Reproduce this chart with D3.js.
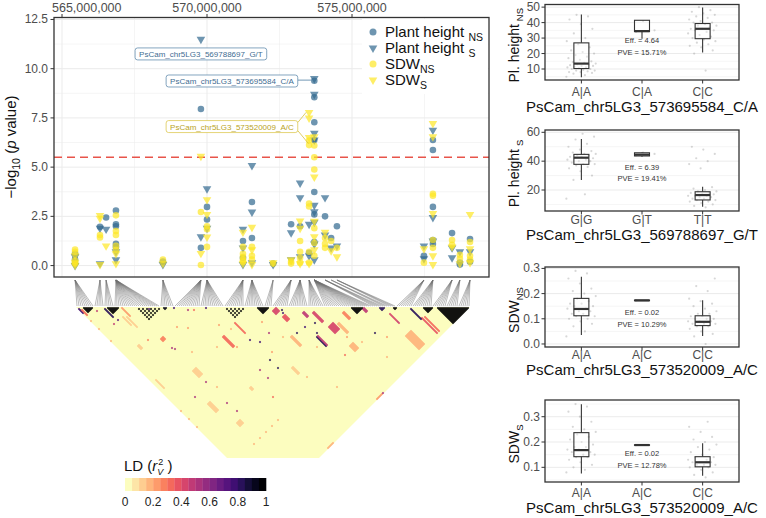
<!DOCTYPE html>
<html>
<head>
<meta charset="utf-8">
<script src="https://cdn.jsdelivr.net/npm/d3@7/dist/d3.min.js"></script>
<style>
  body { margin: 0; background: #fff; }
  svg { display: block; font-family: "Liberation Sans", Arial, Helvetica, sans-serif; }
</style>
</head>
<body>
<svg id="fig" width="766" height="518"></svg>
<script>
// ---------- Manhattan data: [position (Mb), -log10 p] ----------
const phNS = [
  [565.45,0.6],[565.45,0.3],[565.45,0.1],[566.31,1.97],[566.52,2.44],
  [566.86,2.8],[566.86,2.1],[566.86,2.0],[566.86,1.1],[566.86,0.95],[568.48,0.2],
  [569.79,7.95],[569.79,0.9],[570.00,2.98],[570.00,2.34],[571.24,1.25],[571.24,0.4],
  [571.55,3.23],[571.55,1.4],[572.28,0.1],[572.90,2.1],[573.21,2.0],[573.52,0.65],
  [573.70,9.39],[573.70,8.55],[573.70,7.28],[573.70,6.38],[573.70,3.74],[573.70,2.6],[573.70,1.2],
  [574.07,2.5],[574.28,1.4],[574.48,2.0],[577.48,0.5],
  [577.79,6.38],[577.79,5.87],[577.79,2.98],[577.79,1.3],[577.79,1.1],
  [578.45,1.65],[578.72,0.15],[578.72,0.05],[579.07,1.35],[579.07,0.2]
];
const phS = [
  [565.45,0.45],[565.45,0.0],[566.31,1.9],[566.31,0.1],[566.52,1.85],[566.86,0.7],[566.86,0.3],
  [568.48,0.05],[569.79,11.49],[569.79,1.46],[570.00,3.9],[570.00,1.9],
  [571.24,1.85],[571.24,0.9],[571.24,0.05],[571.55,5.08],[571.55,2.72],[571.55,0.15],
  [572.28,0.05],[572.90,1.67],[572.90,0.3],[573.21,4.19],[573.21,3.45],[573.21,0.45],
  [573.52,2.1],[573.52,0.5],
  [573.70,9.5],[573.70,8.7],[573.70,6.72],[573.70,6.38],[573.70,3.06],[573.70,2.73],[573.70,2.2],[573.70,1.1],[573.70,0.3],
  [574.07,3.45],[574.07,1.55],[574.28,0.9],[574.48,1.0],[577.48,1.0],[577.48,0.35],
  [577.79,6.88],[577.79,2.44],[577.79,1.25],[578.45,0.9],[578.45,0.4],[578.72,0.7],[579.07,0.7]
];
const sdwNS = [
  [565.45,0.82],[565.45,0.7],[565.45,0.25],[565.45,0.1],[566.31,1.55],[566.31,1.43],
  [566.86,2.55],[566.86,1.75],[566.86,1.55],[566.86,1.0],[566.86,0.8],[568.48,0.3],
  [569.79,2.72],[569.79,0.03],[570.00,2.0],[570.00,1.85],[570.00,0.95],
  [571.24,0.95],[571.24,0.6],[571.24,0.45],[571.24,0.3],[571.24,0.2],
  [571.55,0.95],[571.55,0.5],[571.55,0.3],[572.28,0.1],[572.90,0.1],[572.90,0.2],
  [573.21,1.25],[573.21,0.7],[573.21,0.4],[573.21,0.15],
  [573.52,6.35],[573.52,6.12],[573.52,3.15],[573.52,3.0],[573.52,0.7],[573.52,0.15],
  [573.70,6.1],[573.70,5.5],[573.70,4.88],[573.70,1.9],[573.70,1.15],[573.70,0.5],
  [574.07,1.4],[574.07,1.1],[574.07,0.9],[574.28,1.25],[574.48,0.9],[577.48,0.15],
  [577.79,3.65],[577.79,3.55],[577.79,1.3],[577.79,0.9],[578.45,1.3],[578.45,1.05],
  [578.72,0.55],[578.72,0.35],[579.07,1.2],[579.07,0.5],[579.07,0.3]
];
const sdwS = [
  [565.45,0.5],[565.45,0.15],[565.45,0.02],[566.31,2.55],[566.31,2.4],[566.31,0.05],[566.52,1.0],
  [566.86,0.6],[566.86,0.1],[568.48,0.1],[569.79,5.55],[569.79,0.62],
  [570.00,3.35],[570.00,2.6],[570.00,1.45],[571.24,1.7],[571.24,0.1],
  [571.55,1.95],[571.55,0.8],[571.55,0.05],[572.28,0.15],[572.90,0.3],
  [573.21,2.26],[573.21,1.9],[573.21,0.1],[573.52,7.78],[573.52,7.5],[573.52,6.5],[573.52,0.1],
  [573.70,6.55],[573.70,4.5],[573.70,2.25],[573.70,1.46],[573.70,0.8],
  [574.07,1.7],[574.28,0.75],[574.48,0.45],[577.48,0.85],
  [577.79,7.22],[577.79,6.55],[577.79,2.64],[577.79,0.5],[577.79,0.05],
  [578.45,0.95],[578.72,0.1],[579.07,2.6],[579.07,0.85],[579.07,0.15]
];
const threshold = 5.5;
const manYTicks = [0, 2.5, 5, 7.5, 10, 12.5];
const manXTicks = [565, 570, 575];

// highlighted SNPs: name, trait colour, label anchor (Mb, -log10 p), points it points to
const labelSnps = [
  { name: "PsCam_chr5LG3_569788697_G/T", trait: "ph",  at: [569.79, 10.75], to: [] },
  { name: "PsCam_chr5LG3_573695584_C/A", trait: "ph",  at: [570.86, 9.375], to: [[573.70, 9.42]] },
  { name: "PsCam_chr5LG3_573520009_A/C", trait: "sdw", at: [570.86, 7.06],  to: [[573.52, 7.78], [573.60, 6.2]] }
];

// ---------- LD data ----------
// SNPs of the map, grouped: [position (Mb), number of SNPs]
const snpClusters = [
  [565.45,9],[566.31,5],[566.52,5],[566.86,23],[568.48,7],[569.79,13],[570.00,12],
  [571.24,10],[571.55,10],[572.28,4],[572.90,8],[573.21,10],[573.52,8],[573.70,24],
  [574.07,5],[574.28,3],[574.48,4],[577.48,8],[577.79,10],[578.45,7],[578.72,6],[579.07,6]
];
// blocks of adjacent SNPs in strong LD: [first, last, r2]
const ldBlocks = [[3,8,1],[15,21,0.95],[43,45,0.9],[90,96,1],[137,143,0.95],[151,154,0.8],
  [158,160,0.95],[173,178,1],[180,196,1]];
// scattered SNP sets in mutual LD: [snps, r2]
const ldSets = [[[30,32,34,36,38,40,42],0.95],[[74,76,78,80,82,84],0.95]];
// rectangles of pairs: [i0, i1, j0, j1, r2]
const ldRects = [
  [0,0,2,6,0.75],[1,1,4,9,0.3],[13,13,15,23,0.8],[22,22,23,31,0.2],[20,20,30,40,0.12],
  [18,18,28,36,0.12],[58,59,88,98,0.3],[71,71,87,97,0.3],[26,29,90,96,0.12],[3,3,76,84,0.1],
  [105,105,135,144,0.8],[106,106,135,144,0.45],[116,120,136,142,0.4],
  [117,120,156,161,0.15],[150,155,179,192,0.15],[167,167,178,193,0.35],[169,169,179,193,0.3],
  [166,166,168,178,0.8],[17,19,114,122,0.1],[55,60,196,196,0.15],[104,110,196,196,0.2],
  [110,111,116,120,0.45],[26,28,58,60,0.25],[46,47,127,129,0.12],[77,78,138,144,0.12],
  [92,93,122,131,0.15],[115,116,121,130,0.4],[122,123,139,148,0.15],[130,131,136,142,0.25],
  [153,153,160,169,0.4],[22,25,138,141,0.1],[98,100,108,112,0.35],[96,99,100,103,0.4],
  [142,143,144,147,0.45],[11,12,50,53,0.12]
];
// single pairs: [i, j, r2]
const ldCells = [
  [8,12,0.45],[10,27,0.45],[14,27,0.7],[48,49,0.75],[64,65,0.75],[101,104,0.8],[100,106,0.75],
  [70,103,0.75],[74,109,0.75],[83,109,0.5],[70,123,0.8],[70,131,0.8],[60,123,0.5],[60,131,0.5],
  [97,123,0.8],[104,124,0.75],[111,127,0.8],[107,133,0.8],[110,158,0.3],[136,162,0.8],
  [153,168,0.45],[27,68,0.5],[27,102,0.5],[27,123,0.5],[28,132,0.5],[28,70,0.5],[19,52,0.25],
  [14,104,0.5],[53,143,0.3],[110,196,0.5],[35,37,0.75],[54,57,0.5],[57,60,0.3],
  [0,14,0.15],[0,22,0.15],[0,34,0.15],[0,104,0.15],[0,112,0.15],[0,120,0.15],
  [20,157,0.15],[26,157,0.15],[32,157,0.15],[38,157,0.15],[44,157,0.15],
  [40,60,0.2],[45,66,0.2],[62,80,0.2],[66,88,0.15],[85,100,0.2],[88,118,0.15],
  [120,150,0.2],[125,160,0.15],[140,170,0.2],[50,90,0.15],[35,80,0.15],[100,140,0.15],
  [30,110,0.15],[80,150,0.15],[90,170,0.15],[130,180,0.15],[60,100,0.2],[75,120,0.2]
];
const ldTicks = [0, 0.2, 0.4, 0.6, 0.8, 1];

// ---------- genotype panels ----------
const genoPH_NS = ["A|A", "C|A", "C|C"];
const statsPH_NS = [[4.6,10.3,13.5,26.9,45.2],[29.6,34.2,34.5,41.5,41.5],[20.6,29.6,36.0,39.4,49.8]];
const ptsPH_NS = [
  [5,6,7,7.5,8,8,8.5,9,9,9.5,10,10,10.5,11,11,11.5,12,12,12.5,13,13,13.5,14,14.5,15,16,17,18,19,20,21,22,24,26,28,30,33,36,39,42,44,45],
  [34,35,41],
  [9,20,22,24,25,26,27,28,29,30,31,32,33,34,35,35,36,36,37,38,38,39,40,40,41,42,43,44,45,46,47,48,50]
];
const genoPH_S = ["G|G", "G|T", "T|T"];
const statsPH_S = [[26.9,37.8,42.4,44.7,55.3],[43.0,43.6,44.5,45.8,46.2],[8.4,13.1,16.5,18.8,22.3]];
const ptsPH_S = [
  [14,17,27,30,33,35,36,37,38,38,39,40,40,41,41,42,42,43,43,44,44,45,45,46,47,48,50,52,55,57,59],
  [44,45,46],
  [8,9,10,11,12,12,13,13,14,14,15,15,16,16,16,17,17,18,18,19,19,20,21,22,35,38,40,42,45,48,50]
];
const genoSDW = ["A|A", "A|C", "C|C"];
const statsSDW_NS = [[0.036,0.112,0.139,0.181,0.267],[0.172,0.172,0.173,0.174,0.174],[0.032,0.073,0.088,0.112,0.174]];
const ptsSDW_NS = [
  [0.03,0.05,0.07,0.08,0.09,0.10,0.10,0.11,0.11,0.12,0.12,0.13,0.13,0.14,0.14,0.15,0.15,0.16,0.16,0.17,0.18,0.19,0.20,0.21,0.22,0.24,0.26,0.28,0.29],
  [0.173],
  [0.0,0.03,0.04,0.05,0.06,0.07,0.07,0.08,0.08,0.08,0.09,0.09,0.09,0.10,0.10,0.10,0.11,0.11,0.12,0.12,0.13,0.14,0.15,0.16,0.17,0.18,0.21,0.23,0.26]
];
const statsSDW_S = [[0.076,0.142,0.168,0.237,0.349],[0.187,0.187,0.188,0.189,0.189],[0.067,0.102,0.12,0.142,0.195]];
const ptsSDW_S = [
  [0.08,0.09,0.10,0.11,0.12,0.13,0.14,0.14,0.15,0.15,0.16,0.16,0.17,0.17,0.18,0.18,0.19,0.20,0.21,0.22,0.23,0.24,0.25,0.26,0.28,0.30,0.32,0.34,0.35],
  [0.188],
  [0.06,0.07,0.08,0.09,0.10,0.10,0.11,0.11,0.11,0.12,0.12,0.12,0.13,0.13,0.14,0.14,0.15,0.16,0.17,0.18,0.19,0.20,0.21,0.22,0.24,0.26,0.28]
];

// ======================================================================
const svg = d3.select("#fig");
const blue = "#31688e", yellow = "#fde725";
const gridCol = "#ebebeb", tickCol = "#4d4d4d", borderCol = "#333333";

// ---------- Manhattan panel ----------
const mx = d3.scaleLinear().domain([564.724, 579.724]).range([54, 489]);
const my = d3.scaleLinear().domain([-0.58, 12.6]).range([277, 17.5]);
const man = svg.append("g");

man.selectAll(".gyMinor").data(d3.range(1.25, 12.6, 2.5)).join("line")
  .attr("x1", 54).attr("x2", 489).attr("y1", d => my(d)).attr("y2", d => my(d))
  .attr("stroke", gridCol).attr("stroke-width", 0.5);
man.selectAll(".gxMinor").data(d3.range(567.5, 579.7, 5)).join("line")
  .attr("y1", 17.5).attr("y2", 277).attr("x1", d => mx(d)).attr("x2", d => mx(d))
  .attr("stroke", gridCol).attr("stroke-width", 0.5);
man.selectAll(".gy").data(manYTicks).join("line")
  .attr("x1", 54).attr("x2", 489).attr("y1", d => my(d)).attr("y2", d => my(d))
  .attr("stroke", gridCol).attr("stroke-width", 1);
man.selectAll(".gx").data(manXTicks).join("line")
  .attr("y1", 17.5).attr("y2", 277).attr("x1", d => mx(d)).attr("x2", d => mx(d))
  .attr("stroke", gridCol).attr("stroke-width", 1);

man.append("line").attr("x1", 54).attr("x2", 489)
  .attr("y1", my(threshold)).attr("y2", my(threshold))
  .attr("stroke", "#e8544a").attr("stroke-width", 1.5).attr("stroke-dasharray", "8,5");

const triSym = d3.symbol(d3.symbolTriangle, 32);
function drawCircles(data, col) {
  man.append("g").selectAll("circle").data(data).join("circle")
    .attr("cx", d => mx(d[0])).attr("cy", d => my(d[1])).attr("r", 3.3)
    .attr("fill", col).attr("fill-opacity", 0.7);
}
function drawTris(data, col) {
  man.append("g").selectAll("path").data(data).join("path")
    .attr("d", triSym)
    .attr("transform", d => `translate(${mx(d[0])},${my(d[1])}) rotate(180)`)
    .attr("fill", col).attr("fill-opacity", 0.7);
}
drawCircles(phNS, blue);
drawTris(phS, blue);
drawCircles(sdwNS, yellow);
drawTris(sdwS, yellow);

// repel-style labels
labelSnps.forEach(l => {
  const stroke = l.trait === "ph" ? "#4f7ea3" : "#d8c23c";
  const txtCol = l.trait === "ph" ? "#3f6d92" : "#b9a31e";
  const g = man.append("g");
  const cx = mx(l.at[0]), cy = my(l.at[1]);
  const t = g.append("text").attr("x", cx).attr("y", cy + 3)
    .attr("text-anchor", "middle").attr("font-size", 8).attr("fill", txtCol).text(l.name);
  const w = t.node().getComputedTextLength() + 8, h = 12;
  const x0 = cx - w / 2, y0 = cy - h / 2;
  l.to.forEach(p => {
    const tx = mx(p[0]) - 3, ty = my(p[1]);
    const sy = Math.max(y0 + 2, Math.min(y0 + h - 2, ty));
    g.insert("line", "text").attr("x1", x0 + w).attr("y1", sy).attr("x2", tx).attr("y2", ty)
      .attr("stroke", stroke).attr("stroke-width", 0.8);
  });
  g.insert("rect", "text").attr("x", x0).attr("y", y0).attr("width", w).attr("height", h)
    .attr("rx", 2.5).attr("fill", "white").attr("stroke", stroke).attr("stroke-width", 0.7);
});

// legend
const legendItems = [
  { lab: "Plant height", sub: "NS", sp: true,  col: blue,   shape: "circle" },
  { lab: "Plant height", sub: "S",  sp: true,  col: blue,   shape: "tri" },
  { lab: "SDW",          sub: "NS", sp: false, col: yellow, shape: "circle" },
  { lab: "SDW",          sub: "S",  sp: false, col: yellow, shape: "tri" }
];
const leg = man.append("g");
leg.append("rect").attr("x", 362).attr("y", 19).attr("width", 126).attr("height", 75).attr("fill", "white");
legendItems.forEach((it, k) => {
  const y = 32 + k * 16;
  if (it.shape === "circle") {
    leg.append("circle").attr("cx", 373).attr("cy", y).attr("r", 3.5)
      .attr("fill", it.col).attr("fill-opacity", 0.7);
  } else {
    leg.append("path").attr("d", triSym).attr("transform", `translate(373,${y}) rotate(180)`)
      .attr("fill", it.col).attr("fill-opacity", 0.7);
  }
  const t = leg.append("text").attr("x", 385).attr("y", y + 5).attr("font-size", 15).attr("fill", "#111");
  t.append("tspan").text(it.lab + (it.sp ? " " : ""));
  t.append("tspan").attr("font-size", 10.5).attr("dy", 4).text(it.sub);
});

// border + axes
man.append("rect").attr("x", 54).attr("y", 17.5).attr("width", 435).attr("height", 259.5)
  .attr("fill", "none").attr("stroke", borderCol).attr("stroke-width", 1.3);
man.selectAll(".ytk").data(manYTicks).join("line")
  .attr("x1", 50.5).attr("x2", 54).attr("y1", d => my(d)).attr("y2", d => my(d))
  .attr("stroke", borderCol).attr("stroke-width", 1);
man.selectAll(".ylab").data(manYTicks).join("text")
  .attr("x", 48).attr("y", d => my(d) + 4).attr("text-anchor", "end")
  .attr("font-size", 12).attr("fill", tickCol).text(d => d3.format(".1f")(d));
man.selectAll(".xtk").data(manXTicks).join("line")
  .attr("x1", d => mx(d)).attr("x2", d => mx(d)).attr("y1", 14).attr("y2", 17.5)
  .attr("stroke", borderCol).attr("stroke-width", 1);
man.selectAll(".xlab").data(manXTicks).join("text")
  .attr("y", 12).attr("text-anchor", "middle").attr("font-size", 12.5).attr("fill", tickCol)
  .text(d => d3.format(",")(d * 1e6))
  .attr("x", function (d) {
    const w = this.getComputedTextLength();
    return Math.max(mx(d), 52 + w / 2);
  });
const yt = man.append("text").attr("transform", "translate(16,147) rotate(-90)")
  .attr("text-anchor", "middle").attr("font-size", 15).attr("fill", "#111");
yt.append("tspan").text("\u2212log");
yt.append("tspan").attr("font-size", 10.5).attr("dy", 4).text("10");
yt.append("tspan").attr("dy", -4).text(" (");
yt.append("tspan").attr("font-style", "italic").text("p");
yt.append("tspan").text(" value)");

// ---------- LD heatmap ----------
const ldN = d3.sum(snpClusters, d => d[1]);
const ldX = d3.scaleLinear().domain([0, ldN]).range([76, 470]);
const cell = ldX(1) - ldX(0);
const ldTop = 307, ldBottom = 458;
const ldBin = r => Math.min(19, Math.floor(r * 20));
const ldColor = r => d3.interpolateMagma(1 - ldBin(r) / 19);

const snpPos = snpClusters.flatMap(([pos, n]) => Array(n).fill(pos));
svg.append("g").selectAll("line").data(snpPos).join("line")
  .attr("x1", d => mx(d)).attr("y1", 280)
  .attr("x2", (d, k) => ldX(k + 0.5)).attr("y2", 306)
  .attr("stroke", "#6e6e6e").attr("stroke-width", 0.55).attr("stroke-opacity", 0.85);

const ldMap = new Map();
const setPair = (i, j, r) => { if (i < j && j < ldN) ldMap.set(i + "," + j, r); };
ldRects.forEach(([i0, i1, j0, j1, r]) => {
  for (let i = i0; i <= i1; i++) for (let j = j0; j <= j1; j++) setPair(i, j, r);
});
ldCells.forEach(([i, j, r]) => setPair(i, j, r));
ldSets.forEach(([snps, r]) => {
  snps.forEach(a => snps.forEach(b => setPair(a, b, r)));
});
ldBlocks.forEach(([a, b, r]) => {
  for (let i = a; i <= b; i++) for (let j = i + 1; j <= b; j++) setPair(i, j, r);
});
const ldPairs = Array.from(ldMap, ([k, r]) => {
  const [i, j] = k.split(",").map(Number);
  return { i, j, r };
});

svg.append("clipPath").attr("id", "ldclip").append("rect")
  .attr("x", 0).attr("y", ldTop - 2).attr("width", 766).attr("height", ldBottom - ldTop + 2);
const ldG = svg.append("g").attr("clip-path", "url(#ldclip)");
const depth = ldBottom - ldTop;
ldG.append("polygon")
  .attr("points", [[ldX(0), ldTop], [ldX(ldN), ldTop], [ldX(ldN) - depth, ldBottom], [ldX(0) + depth, ldBottom]].join(" "))
  .attr("fill", ldColor(0));
ldG.selectAll("path").data(ldPairs).join("path")
  .attr("d", d => {
    const cx = ldX((d.i + d.j + 1) / 2), cy = ldTop + (d.j - d.i) * cell / 2, h = cell / 2 + 0.2;
    return `M${cx},${cy - h}L${cx + h},${cy}L${cx},${cy + h}L${cx - h},${cy}Z`;
  })
  .attr("fill", d => ldColor(d.r));

// colour bar
const cbX = d3.scaleLinear().domain([0, 1]).range([125, 266]);
svg.append("g").selectAll("rect").data(d3.range(20)).join("rect")
  .attr("x", k => cbX(k / 20)).attr("width", cbX(0.05) - cbX(0) + 0.3)
  .attr("y", 478).attr("height", 13).attr("fill", k => ldColor((k + 0.5) / 20));
svg.append("g").selectAll("text").data(ldTicks).join("text")
  .attr("x", d => cbX(d)).attr("y", 506).attr("text-anchor", "middle")
  .attr("font-size", 12).attr("fill", "#222").text(d => d3.format("~g")(d));
const lt = svg.append("text").attr("x", 124).attr("y", 471).attr("font-size", 15).attr("fill", "#111");
lt.append("tspan").text("LD (");
lt.append("tspan").attr("font-style", "italic").text("r");
lt.append("tspan").attr("font-size", 9).attr("dy", -6).attr("dx", 1).text("2");
lt.append("tspan").attr("font-size", 9).attr("font-style", "italic").attr("dy", 10).attr("dx", -6).text("V");
lt.append("tspan").attr("dy", -4).text(" )");

// ---------- genotype boxplots ----------
const boxPanels = [
  { geno: genoPH_NS, stats: statsPH_NS, pts: ptsPH_NS, eff: "4.64", pve: "15.71%", ylab: ["Pl. height", "NS"],
    xlab: "PsCam_chr5LG3_573695584_C/A", top: 4.5, bottom: 80, dom: [2.9, 51.7], ticks: [10, 20, 30, 40, 50],
    fmt: d3.format("d"), effY: 43, pveY: 55, tickY: 96, titleY: 112 },
  { geno: genoPH_S, stats: statsPH_S, pts: ptsPH_S, eff: "6.39", pve: "19.41%", ylab: ["Pl. height", "S"],
    xlab: "PsCam_chr5LG3_569788697_G/T", top: 130, bottom: 211, dom: [5.45, 61.6], ticks: [20, 40, 60],
    fmt: d3.format("d"), effY: 170, pveY: 181, tickY: 224, titleY: 240 },
  { geno: genoSDW, stats: statsSDW_NS, pts: ptsSDW_NS, eff: "0.02", pve: "10.29%", ylab: ["SDW", "NS"],
    xlab: "PsCam_chr5LG3_573520009_A/C", top: 267, bottom: 347, dom: [-0.012, 0.3056], ticks: [0, 0.1, 0.2, 0.3],
    fmt: d3.format(".1f"), effY: 315, pveY: 327, tickY: 359, titleY: 375 },
  { geno: genoSDW, stats: statsSDW_S, pts: ptsSDW_S, eff: "0.02", pve: "12.78%", ylab: ["SDW", "S"],
    xlab: "PsCam_chr5LG3_573520009_A/C", top: 400, bottom: 482, dom: [0.042, 0.366], ticks: [0.1, 0.2, 0.3],
    fmt: d3.format(".1f"), effY: 456, pveY: 468, tickY: 497, titleY: 513 }
];
const bxL = 545, bxR = 739;

boxPanels.forEach(p => {
  const g = svg.append("g");
  const x = d3.scalePoint().domain(p.geno).range([bxL, bxR]).padding(0.6);
  const y = d3.scaleLinear().domain(p.dom).range([p.bottom, p.top]);
  const step = (p.ticks[1] - p.ticks[0]) / 2;
  const minor = p.ticks.map(t => t - step).concat([p.ticks[p.ticks.length - 1] + step])
    .filter(v => v > p.dom[0] && v < p.dom[1]);
  g.selectAll(".mn").data(minor).join("line")
    .attr("x1", bxL).attr("x2", bxR).attr("y1", d => y(d)).attr("y2", d => y(d))
    .attr("stroke", gridCol).attr("stroke-width", 0.5);
  g.selectAll(".mj").data(p.ticks).join("line")
    .attr("x1", bxL).attr("x2", bxR).attr("y1", d => y(d)).attr("y2", d => y(d))
    .attr("stroke", gridCol).attr("stroke-width", 1);

  // jittered observations
  p.geno.forEach((gt, gi) => {
    g.append("g").selectAll("circle").data(p.pts[gi]).join("circle")
      .attr("cx", (d, k) => x(gt) + (((k * 0.618034 + gi * 0.3) % 1) - 0.5) * 30)
      .attr("cy", d => y(d)).attr("r", 1.1)
      .attr("fill", "#8c8c8c").attr("fill-opacity", 0.35);
  });

  // boxes
  p.geno.forEach((gt, gi) => {
    const [lo, q1, md, q3, hi] = p.stats[gi];
    const cx = x(gt), bw = 15;
    g.append("line").attr("x1", cx).attr("x2", cx).attr("y1", y(hi)).attr("y2", y(q3))
      .attr("stroke", borderCol).attr("stroke-width", 1.1);
    g.append("line").attr("x1", cx).attr("x2", cx).attr("y1", y(q1)).attr("y2", y(lo))
      .attr("stroke", borderCol).attr("stroke-width", 1.1);
    g.append("rect").attr("x", cx - bw / 2).attr("width", bw)
      .attr("y", y(q3)).attr("height", Math.max(0.5, y(q1) - y(q3)))
      .attr("fill", "white").attr("fill-opacity", 0.35)
      .attr("stroke", borderCol).attr("stroke-width", 1.1);
    g.append("line").attr("x1", cx - bw / 2).attr("x2", cx + bw / 2).attr("y1", y(md)).attr("y2", y(md))
      .attr("stroke", borderCol).attr("stroke-width", 2.2);
  });

  // effect annotation
  const mid = x(p.geno[1]);
  g.append("text").attr("x", mid).attr("y", p.effY).attr("text-anchor", "middle")
    .attr("font-size", 7.5).attr("fill", "#333").text("Eff. = " + p.eff);
  g.append("text").attr("x", mid).attr("y", p.pveY).attr("text-anchor", "middle")
    .attr("font-size", 7.5).attr("fill", "#333").text("PVE = " + p.pve);

  // frame + axes
  g.append("rect").attr("x", bxL).attr("y", p.top).attr("width", bxR - bxL).attr("height", p.bottom - p.top)
    .attr("fill", "none").attr("stroke", borderCol).attr("stroke-width", 1.3);
  g.selectAll(".yt").data(p.ticks).join("line")
    .attr("x1", bxL - 3.5).attr("x2", bxL).attr("y1", d => y(d)).attr("y2", d => y(d))
    .attr("stroke", borderCol);
  g.selectAll(".yl").data(p.ticks).join("text")
    .attr("x", bxL - 5).attr("y", d => y(d) + 4).attr("text-anchor", "end")
    .attr("font-size", 12).attr("fill", tickCol).text(d => p.fmt(d));
  g.selectAll(".xt").data(p.geno).join("line")
    .attr("x1", d => x(d)).attr("x2", d => x(d)).attr("y1", p.bottom).attr("y2", p.bottom + 3.5)
    .attr("stroke", borderCol);
  g.selectAll(".xl").data(p.geno).join("text")
    .attr("x", d => x(d)).attr("y", p.tickY).attr("text-anchor", "middle")
    .attr("font-size", 12).attr("fill", tickCol).text(d => d);
  g.append("text").attr("x", (bxL + bxR) / 2).attr("y", p.titleY).attr("text-anchor", "middle")
    .attr("font-size", 15).attr("fill", "#111").text(p.xlab);
  const t = g.append("text").attr("transform", `translate(519,${(p.top + p.bottom) / 2 + 3}) rotate(-90)`)
    .attr("text-anchor", "middle").attr("font-size", 14).attr("fill", "#111");
  t.append("tspan").text(p.ylab[0]);
  t.append("tspan").attr("font-size", 9.5).attr("dy", 4).attr("dx", p.ylab[0].length > 4 ? 3 : 0).text(p.ylab[1]);
});
</script>
</body>
</html>
